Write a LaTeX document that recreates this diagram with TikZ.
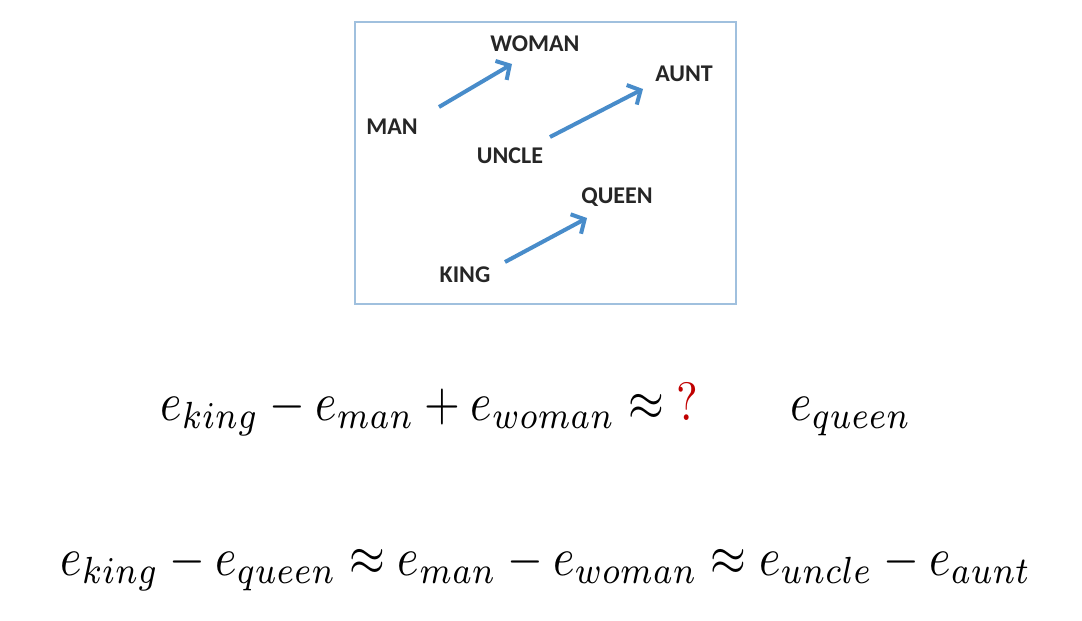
\documentclass[tikz,border=0pt]{standalone}
\usepackage{fontspec}
\usetikzlibrary{arrows.meta}
\newfontfamily\labfont{Carlito}
\definecolor{arrowblue}{RGB}{72,140,202}
\definecolor{boxblue}{RGB}{160,192,222}
\definecolor{labgray}{RGB}{38,38,38}
\definecolor{qred}{RGB}{192,0,0}
\newcommand{\eqs}[1]{\scalebox{2.3}[2.7]{#1}}
\begin{document}
\begin{tikzpicture}[x=0.5pt,y=-0.5pt,
  word/.style={font=\labfont\bfseries\fontsize{12}{14}\selectfont,text=labgray,inner sep=0pt},
  vec/.style={draw=arrowblue,line width=2pt,-{Straight Barb[length=5pt,width=11pt]}},
  eqn/.style={inner sep=0pt,anchor=base west}]
\useasboundingbox (0,0) rectangle (1082,621);
\node[draw=boxblue,line width=1pt,minimum width=190.5pt,minimum height=141pt,inner sep=0pt] (frame) at (545.5,163) {};
\node[word] (woman) at (535,43.5) {WOMAN};
\node[word] (aunt) at (684,73.5) {AUNT};
\node[word] (man) at (392,126.5) {MAN};
\node[word] (uncle) at (510,155.5) {UNCLE};
\node[word] (queen) at (617,197.5) {QUEEN};
\node[word] (king) at (465,274.5) {KING};
\coordinate (m1) at (439,107);
\coordinate (m2) at (512,64);
\coordinate (u1) at (550,137);
\coordinate (u2) at (643,89);
\coordinate (k1) at (505,262);
\coordinate (k2) at (587,218);
\draw[vec] (m1) -- (m2);
\draw[vec] (u1) -- (u2);
\draw[vec] (k1) -- (k2);
\node[eqn] (eq1) at (160,420) {\eqs{$e_{king}-e_{man}+e_{woman}\approx$}};
\node[eqn,text=qred] (qm) at (676,420) {\eqs{?}};
\node[eqn] (eq1b) at (790,420) {\eqs{$e_{queen}$}};
\node[eqn] (eq2) at (60,575) {\eqs{$e_{king}-e_{queen}\approx e_{man}-e_{woman}\approx e_{uncle}-e_{aunt}$}};
\end{tikzpicture}
\end{document}
